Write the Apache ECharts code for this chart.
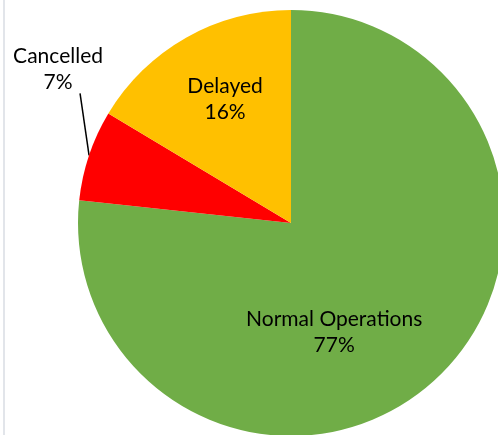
<!DOCTYPE html>
<html>
<head>
<meta charset="utf-8">
<script src="https://cdn.jsdelivr.net/npm/echarts@6/dist/echarts.min.js"></script>
<style>
  html, body { margin: 0; padding: 0; background: #fff; }
  #chart { width: 498px; height: 435px; }
</style>
</head>
<body>
<div id="chart"></div>
<script>
// Flight status shares (percent)
const categories = ['Normal Operations', 'Cancelled', 'Delayed'];
const shares = [76.7, 6.9, 16.4];
const sliceColors = ['#70AD47', '#FF0000', '#FFC000'];

const chart = echarts.init(document.getElementById('chart'));

const pieData = categories.map((name, i) => ({
    name: name,
    value: shares[i],
    itemStyle: { color: sliceColors[i] },
    label: i === 1
        ? { position: 'outside', width: 120, overflow: 'none' }
        : { position: 'inside' },
    labelLine: { show: i === 1 }
}));

const option = {
    animation: false,
    graphic: [{
        // thin frame line on the left edge
        type: 'rect',
        shape: { x: 3, y: 0, width: 2, height: 435 },
        style: { fill: '#e2e5ea' },
        silent: true
    }],
    series: [{
        type: 'pie',
        center: [291, 223],
        radius: 213,
        startAngle: 90,
        clockwise: true,
        percentPrecision: 0,
        data: pieData,
        itemStyle: { borderWidth: 0 },
        label: {
            formatter: '{b}\n{d}%',
            color: '#000',
            fontFamily: 'Lato',
            fontSize: 21,
            lineHeight: 26,
            align: 'center'
        },
        labelLine: {
            lineStyle: { color: '#000', width: 1.5 },
            length: 20,
            length2: 0
        },
        labelLayout: function (params) {
            if (params.dataIndex === 0) return { dx: -30, dy: 28 };
            if (params.dataIndex === 2) return { dx: -12, dy: -28 };
            // Cancelled: nearly vertical leader up to the label
            const start = params.labelLinePoints[0];
            const end = [start[0] - 9, start[1] - 62];
            return {
                x: end[0] - 22,
                y: end[1] + 2,
                align: 'center',
                verticalAlign: 'bottom',
                labelLinePoints: [start, end, end]
            };
        }
    }]
};

chart.setOption(option);
window.addEventListener('resize', () => chart.resize());
</script>
</body>
</html>
